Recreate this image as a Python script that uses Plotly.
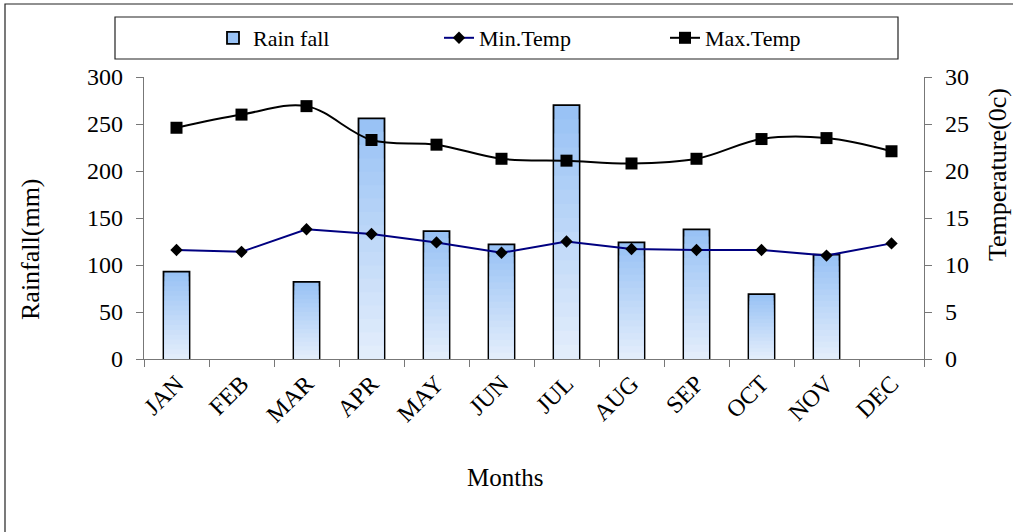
import plotly.graph_objects as go

months = ["JAN", "FEB", "MAR", "APR", "MAY", "JUN", "JUL", "AUG", "SEP", "OCT", "NOV", "DEC"]
rainfall = [93, 0, 82, 256, 136, 122, 270, 124, 138, 69, 111, 0]
min_temp = [11.6, 11.4, 13.8, 13.3, 12.4, 11.3, 12.5, 11.7, 11.6, 11.6, 11.0, 12.3]
max_temp = [24.6, 26.0, 26.9, 23.3, 22.8, 21.3, 21.1, 20.8, 21.3, 23.4, 23.5, 22.1]

FONT = "Liberation Serif"
W, H = 1013, 532
L, R, T, B = 144, 924, 77, 359  # plot area in px


def px_x(x):
    return (x - L) / (R - L)


def px_y(y):
    return (B - y) / (B - T)


top_rgb = (153, 194, 245)
bot_rgb = (226, 237, 251)
N = 18
bar_w = 0.4
inner_w = bar_w - 2.4 / ((R - L) / 12)

fig = go.Figure()

# outline bar (top band of gradient + border)
fig.add_trace(go.Bar(
    x=months, y=rainfall, name="Rain fall", width=bar_w,
    marker=dict(color="rgb(%d,%d,%d)" % top_rgb,
                line=dict(color="black", width=[1.8 if v > 0 else 0 for v in rainfall])),
    yaxis="y",
))
# gradient bands (shorter bars overlaid on top)
for k in range(1, N):
    f = k / (N - 1)
    c = tuple(round(top_rgb[i] + (bot_rgb[i] - top_rgb[i]) * f) for i in range(3))
    fig.add_trace(go.Bar(
        x=months, y=[v * (1 - k / N) for v in rainfall], width=inner_w,
        marker=dict(color="rgb(%d,%d,%d)" % c, line=dict(width=0)),
        showlegend=False, hoverinfo="skip", yaxis="y",
    ))

fig.add_trace(go.Scatter(
    x=months, y=min_temp, name="Min.Temp", yaxis="y2", mode="lines+markers",
    line=dict(color="#000080", width=2),
    marker=dict(symbol="diamond", size=9.5, color="black"),
))
fig.add_trace(go.Scatter(
    x=months, y=max_temp, name="Max.Temp", yaxis="y2", mode="lines+markers",
    line=dict(color="black", width=2, shape="spline", smoothing=1.0),
    marker=dict(symbol="square", size=12, color="black"),
))

axis_common = dict(
    showline=True, linecolor="#777", linewidth=1.3,
    ticks="outside", ticklen=7, tickcolor="#777", tickwidth=1.3,
    showgrid=False, zeroline=False,
    tickfont=dict(family=FONT, size=24, color="black"),
)

fig.update_layout(
    width=W, height=H,
    margin=dict(l=L, r=W - R, t=T, b=H - B, pad=0),
    paper_bgcolor="white", plot_bgcolor="white",
    barmode="overlay",
    font=dict(family=FONT, color="black"),
    xaxis=dict(**axis_common, type="category", tickson="boundaries", tickangle=-45,
               range=[-0.5, 11.5]),
    yaxis=dict(**axis_common, range=[0, 300], dtick=50, ticklabelstandoff=8),
    yaxis2=dict(**axis_common, range=[0, 30], dtick=5, overlaying="y", side="right",
                ticklabelstandoff=8),
    legend=dict(orientation="h", x=px_x(213), xanchor="left", y=px_y(38), yanchor="middle",
                font=dict(family=FONT, size=22), bgcolor="rgba(0,0,0,0)",
                entrywidth=181, traceorder="normal"),
    showlegend=True,
    shapes=[
        dict(type="rect", xref="paper", yref="paper", layer="below",
             x0=px_x(5), x1=px_x(1040), y0=px_y(560), y1=px_y(4),
             line=dict(color="#222", width=1.2)),
        dict(type="rect", xref="paper", yref="paper",
             x0=px_x(115), x1=px_x(898), y0=px_y(59), y1=px_y(17),
             line=dict(color="#222", width=1.2)),
    ],
    annotations=[
        dict(text="Rainfall(mm)", xref="paper", yref="paper", x=px_x(30), y=px_y(249),
             xanchor="center", yanchor="middle",
             textangle=-90, showarrow=False, font=dict(family=FONT, size=26)),
        dict(text="Temperature(0c)", xref="paper", yref="paper", x=px_x(997), y=px_y(174),
             xanchor="center", yanchor="middle",
             textangle=-90, showarrow=False, font=dict(family=FONT, size=26)),
        dict(text="Months", xref="paper", yref="paper", x=px_x(505), y=px_y(477),
             xanchor="center", yanchor="middle",
             showarrow=False, font=dict(family=FONT, size=25)),
    ],
)

fig.write_html("out.html", config={"displayModeBar": False},
               post_script="document.body.style.margin='0';")
